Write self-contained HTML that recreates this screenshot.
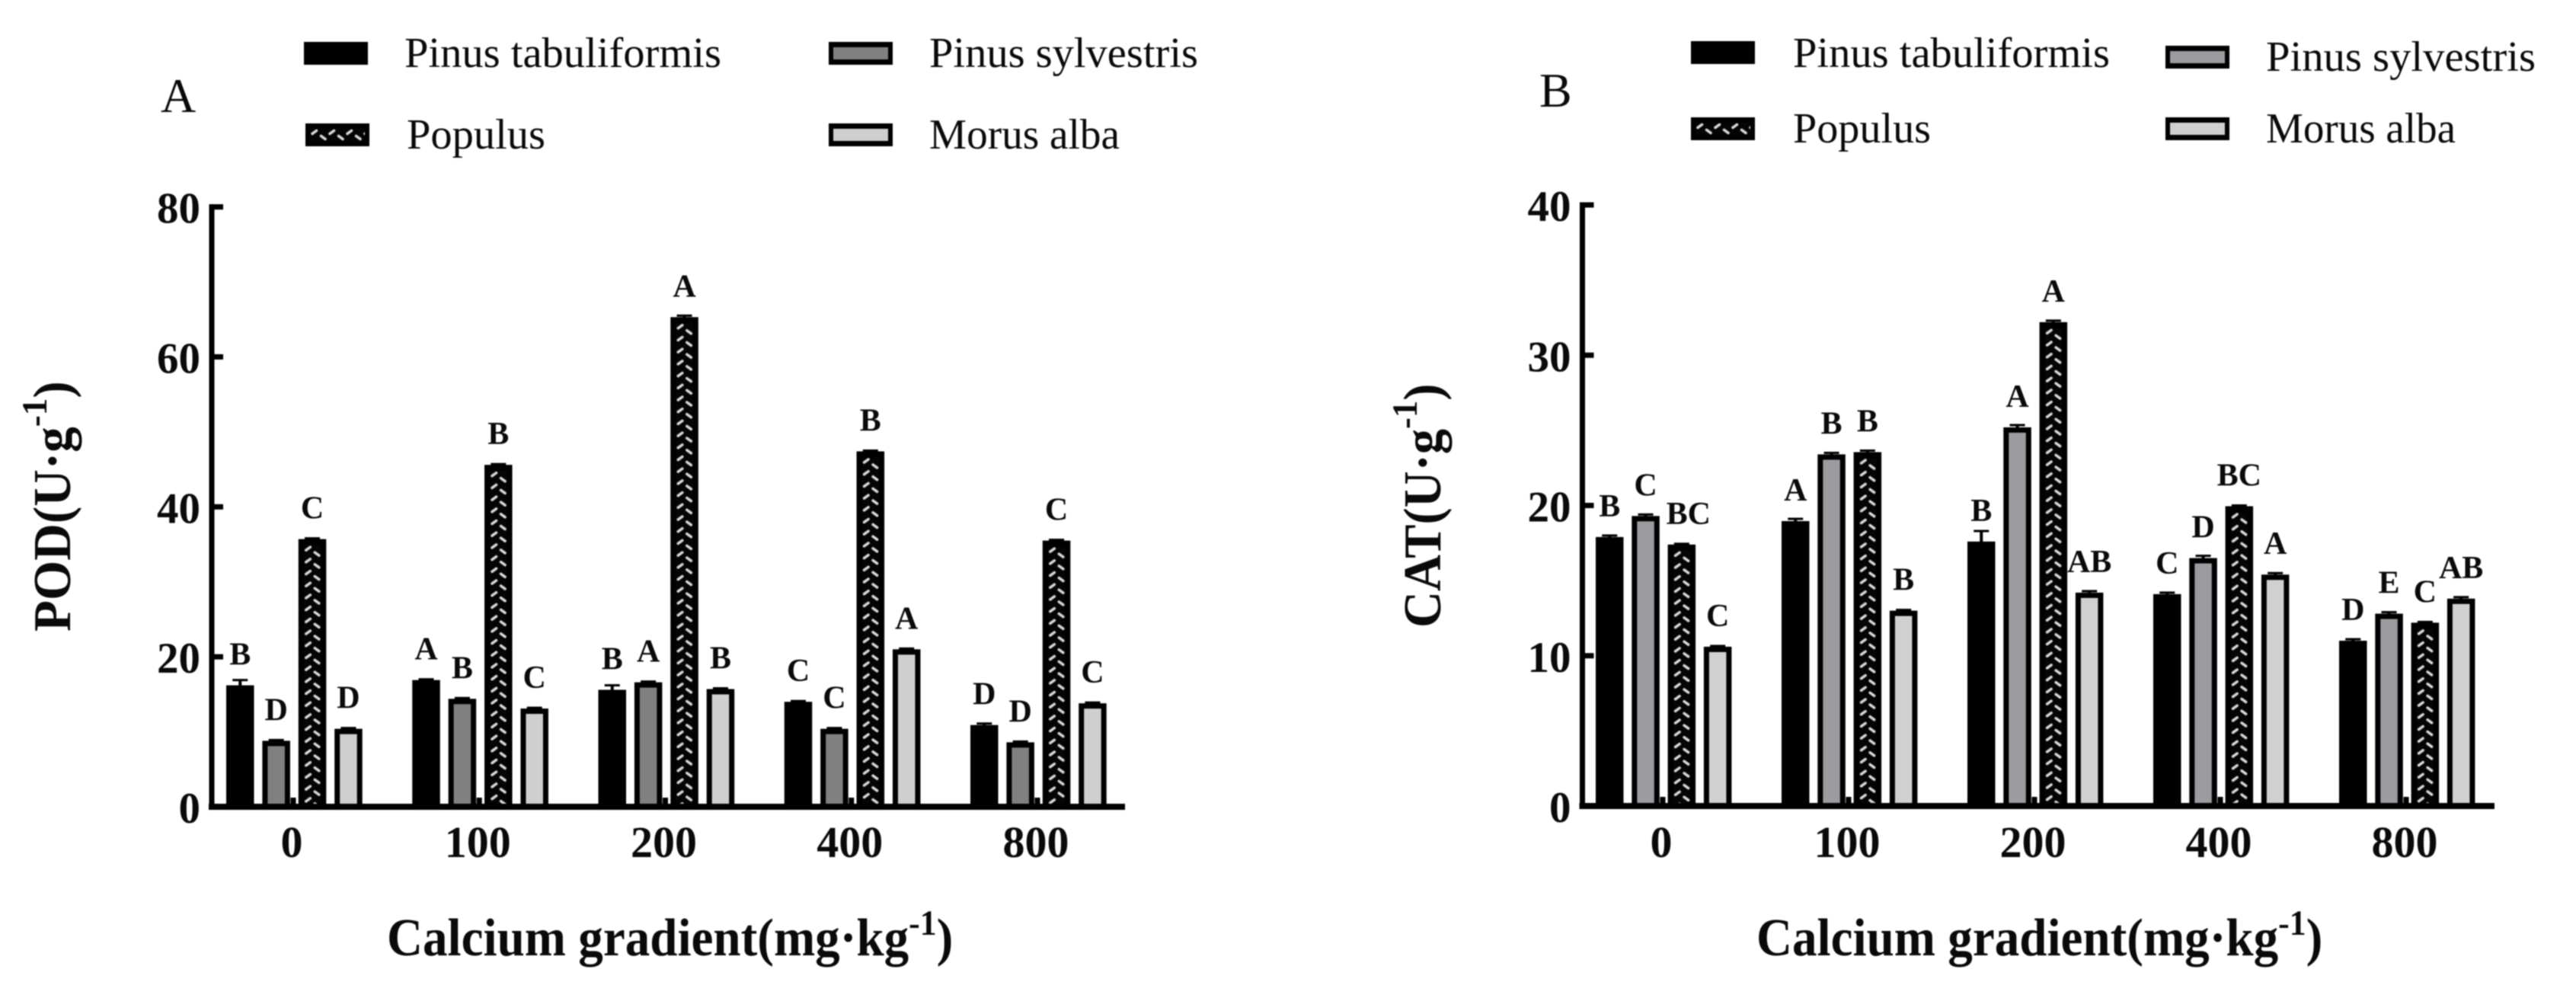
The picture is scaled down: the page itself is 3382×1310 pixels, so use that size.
<!DOCTYPE html>
<html lang="en">
<head>
<meta charset="utf-8">
<title>POD and CAT activity by calcium gradient</title>
<style>
  html, body { margin: 0; padding: 0; background: #fff; }
  body { width: 3382px; height: 1310px; overflow: hidden; }
  svg { display: block; filter: blur(0.8px); font-family: "Liberation Serif", "DejaVu Serif", serif; fill: #0a0a0a; }
  .title { font-size: 70px; font-weight: bold; }
  .sup { font-size: 47px; }
  .panel-letter { font-size: 64px; }
</style>
</head>
<body>
<svg id="figure" xmlns="http://www.w3.org/2000/svg" width="3382" height="1310" viewBox="0 0 3382 1310">
  <rect x="0" y="0" width="3382" height="1310" fill="#fff"/>
  <g id="chart-a"></g>
  <g id="chart-b"></g>

  <text class="panel-letter" x="211" y="147">A</text>
  <text class="panel-letter" x="2021" y="140">B</text>

  <text class="title" transform="translate(92 829) rotate(-90) scale(0.96 1)">POD(U·g<tspan class="sup" dy="-31">-1</tspan><tspan dy="31">)</tspan></text>
  <text class="title" transform="translate(1891 824) rotate(-90) scale(0.95 1)">CAT(U·g<tspan class="sup" dy="-31">-1</tspan><tspan dy="31">)</tspan></text>

  <text class="title" transform="translate(508 1254) scale(0.93 1)">Calcium gradient(mg·kg<tspan class="sup" dy="-27">-1</tspan><tspan dy="27">)</tspan></text>
  <text class="title" transform="translate(2306 1254) scale(0.93 1)">Calcium gradient(mg·kg<tspan class="sup" dy="-27">-1</tspan><tspan dy="27">)</tspan></text>
</svg>

<script>
const categories = ['0', '100', '200', '400', '800'];
const seriesNames = ['Pinus tabuliformis', 'Pinus sylvestris', 'Populus', 'Morus alba'];

const podTicks = [0, 20, 40, 60, 80];
const podTabuliformis = [16.2, 16.9, 15.6, 14.0, 10.9];
const podSylvestris = [8.8, 14.4, 16.6, 10.4, 8.6];
const podPopulus = [35.7, 45.6, 65.3, 47.4, 35.5];
const podMorus = [10.4, 13.1, 15.7, 21.0, 13.8];
const podTabuliformisErr = [0.7, 0.1, 0.6, 0.1, 0.2];
const podSylvestrisErr = [0.1, 0.1, 0.1, 0.1, 0.1];
const podPopulusErr = [0.1, 0.1, 0.2, 0.1, 0.1];
const podMorusErr = [0.1, 0.1, 0.1, 0.1, 0.1];
const podTabuliformisLetters = ['B', 'A', 'B', 'C', 'D'];
const podSylvestrisLetters = ['D', 'B', 'A', 'C', 'D'];
const podPopulusLetters = ['C', 'B', 'A', 'B', 'C'];
const podMorusLetters = ['D', 'C', 'B', 'A', 'C'];

const catTicks = [0, 10, 20, 30, 40];
const catTabuliformis = [17.9, 18.96, 17.6, 14.1, 11.0];
const catSylvestris = [19.3, 23.4, 25.2, 16.5, 12.8];
const catPopulus = [17.4, 23.55, 32.2, 19.95, 12.2];
const catMorus = [10.6, 13.0, 14.2, 15.4, 13.8];
const catTabuliformisErr = [0.1, 0.15, 0.7, 0.1, 0.1];
const catSylvestrisErr = [0.1, 0.1, 0.15, 0.15, 0.1];
const catPopulusErr = [0.05, 0.1, 0.1, 0.05, 0.05];
const catMorusErr = [0.05, 0.05, 0.1, 0.1, 0.1];
const catTabuliformisLetters = ['B', 'A', 'B', 'C', 'D'];
const catSylvestrisLetters = ['C', 'B', 'A', 'D', 'E'];
const catPopulusLetters = ['BC', 'B', 'A', 'BC', 'C'];
const catMorusLetters = ['C', 'B', 'AB', 'A', 'AB'];

const SVG_NS = 'http://www.w3.org/2000/svg';
const INK = '#000';

function make(tag, attrs, parent) {
  const node = document.createElementNS(SVG_NS, tag);
  for (const key in attrs) node.setAttribute(key, attrs[key]);
  parent.appendChild(node);
  return node;
}

function addPattern(svgRoot, id, originX, originY) {
  const defs = make('defs', {}, svgRoot);
  const pattern = make('pattern', {
    id: id, patternUnits: 'userSpaceOnUse',
    x: originX, y: originY, width: 23, height: 15.7
  }, defs);
  make('rect', { x: 0, y: 0, width: 23, height: 15.7, fill: '#050505' }, pattern);
  make('line', { x1: 3, y1: 6.5, x2: 8.5, y2: 2.5, stroke: '#d6d6d6', 'stroke-width': 3.6, 'stroke-linecap': 'round' }, pattern);
  make('line', { x1: 14.5, y1: 9.5, x2: 20, y2: 13.5, stroke: '#d6d6d6', 'stroke-width': 3.6, 'stroke-linecap': 'round' }, pattern);
}

function drawChart(cfg) {
  const root = document.getElementById(cfg.rootId);
  const svgRoot = document.getElementById('figure');
  const xScale = function (i) { return cfg.x0 + i * cfg.xStep; };
  const yScale = function (v) { return cfg.y0 - (v / cfg.yMax) * (cfg.y0 - cfg.yTop); };

  // Inward category ticks, behind the bars
  cfg.categories.forEach(function (cat, i) {
    const tick = make('rect', { x: xScale(i) - 3.5, y: cfg.y0 - 12, width: 7, height: 12, fill: INK }, root);
    
    
    const label = make('text', { x: xScale(i) - 2, y: 1125, 'text-anchor': 'middle', 'font-size': 58, 'font-weight': 'bold' }, root);
    label.textContent = cat;
    
    
  });

  // Bars, error bars and significance letters
  cfg.series.forEach(function (values, k) {
    values.forEach(function (value, i) {
      const barX = xScale(i) + cfg.barOffset + k * cfg.barStep;
      const top = yScale(value);
      const center = barX + cfg.barWidth / 2;
      const errTop = yScale(value + cfg.errors[k][i]);

      const stem = make('rect', { x: center - 2, y: errTop, width: 4, height: top - errTop + 2, fill: INK }, root);
      
      
      const cap = make('rect', { x: center - 10, y: errTop - 1.5, width: 20, height: 3, fill: INK }, root);
      
      

      const bar = make('rect', { x: barX, y: top, width: cfg.barWidth, height: cfg.y0 - top, fill: INK }, root);
      
      

      if (k === 1 || k === 3) {
        const inner = make('rect', {
          x: barX + 7, y: top + 7, width: cfg.barWidth - 14,
          height: Math.max(0, cfg.y0 - top - 7), fill: cfg.fills[k]
        }, root);
        
        
      }
      if (k === 2) {
        const patternId = cfg.rootId + '-pattern-' + i;
        addPattern(svgRoot, patternId, barX + 7, top + 8);
        const inner = make('rect', {
          x: barX + 7, y: top + 8, width: cfg.barWidth - 14,
          height: Math.max(0, cfg.y0 - top - 8), fill: 'url(#' + patternId + ')'
        }, root);
        
        
      }

      const text = cfg.letters[k][i];
      const letter = make('text', {
        x: center + (text.length > 1 && k === 2 && i === 0 ? 9 : 0), y: top - 27, 'text-anchor': 'middle',
        'font-size': 42, 'font-weight': 'bold'
      }, root);
      letter.textContent = text;
      
      
    });
  });

  // Y axis
  const yLine = make('rect', { x: cfg.axisX - 3.5, y: cfg.yTop - 3.5, width: 7, height: cfg.y0 - cfg.yTop + 7, fill: INK }, root);
  
  
  cfg.ticks.forEach(function (t) {
    const tick = make('rect', { x: cfg.axisX, y: yScale(t) - 3.5, width: 15, height: 7, fill: INK }, root);
    
    
    const label = make('text', { x: cfg.axisX - 15, y: yScale(t) + 21, 'text-anchor': 'end', 'font-size': 57, 'font-weight': 'bold' }, root);
    label.textContent = String(t);
    
    
  });

  // X axis
  const xLine = make('rect', { x: cfg.axisX - 4, y: cfg.y0 - 4, width: cfg.xEnd - cfg.axisX + 4, height: 8, fill: INK }, root);
  
  

  // Legend
  cfg.legend.forEach(function (entry, k) {
    const group = make('g', {}, root);
    
    
    const swatch = make('rect', { x: entry.sx, y: entry.sy, width: 84, height: 30, fill: INK }, group);
    
    
    if (k === 1 || k === 3) {
      const inner = make('rect', { x: entry.sx + 6, y: entry.sy + 7, width: 72, height: 16, fill: cfg.fills[k] }, group);
      
      
    }
    if (k === 2) {
      const patternId = cfg.rootId + '-legend-pattern';
      addPattern(svgRoot, patternId, entry.sx + 6, entry.sy + 7);
      const inner = make('rect', { x: entry.sx + 6, y: entry.sy + 7, width: 72, height: 16, fill: 'url(#' + patternId + ')' }, group);
      
      
    }
    const text = make('text', {
      x: entry.tx, y: entry.ty, 'font-size': 56,
      textLength: entry.tw, lengthAdjust: 'spacingAndGlyphs'
    }, group);
    text.textContent = seriesNames[k];
    
    
  });
}

drawChart({
  rootId: 'chart-a',
  categories: categories,
  ticks: podTicks,
  yMax: 80, y0: 1059, yTop: 271.6,
  x0: 385, xStep: 244.25, axisX: 278, xEnd: 1477,
  barOffset: -88, barStep: 47.4, barWidth: 36.5,
  fills: ['#000', '#808080', '#000', '#cfcfcf'],
  series: [podTabuliformis, podSylvestris, podPopulus, podMorus],
  errors: [podTabuliformisErr, podSylvestrisErr, podPopulusErr, podMorusErr],
  letters: [podTabuliformisLetters, podSylvestrisLetters, podPopulusLetters, podMorusLetters],
  legend: [
    { sx: 399, sy: 55, tx: 531, ty: 88, tw: 416 },
    { sx: 1088, sy: 55, tx: 1220, ty: 88, tw: 353 },
    { sx: 401, sy: 162, tx: 534, ty: 195, tw: 182 },
    { sx: 1088, sy: 162, tx: 1220, ty: 195, tw: 250 }
  ]
});

drawChart({
  rootId: 'chart-b',
  categories: categories,
  ticks: catTicks,
  yMax: 40, y0: 1058, yTop: 269,
  x0: 2183, xStep: 244, axisX: 2077.5, xEnd: 3275,
  barOffset: -88, barStep: 47.3, barWidth: 36.5,
  fills: ['#000', '#9b9ba0', '#000', '#d0d0d0'],
  series: [catTabuliformis, catSylvestris, catPopulus, catMorus],
  errors: [catTabuliformisErr, catSylvestrisErr, catPopulusErr, catMorusErr],
  letters: [catTabuliformisLetters, catSylvestrisLetters, catPopulusLetters, catMorusLetters],
  legend: [
    { sx: 2220, sy: 54, tx: 2354, ty: 88, tw: 416 },
    { sx: 2843, sy: 60, tx: 2975, ty: 93, tw: 354 },
    { sx: 2220, sy: 154, tx: 2354, ty: 187, tw: 181 },
    { sx: 2843, sy: 154, tx: 2975, ty: 187, tw: 249 }
  ]
});
</script>
</body>
</html>
